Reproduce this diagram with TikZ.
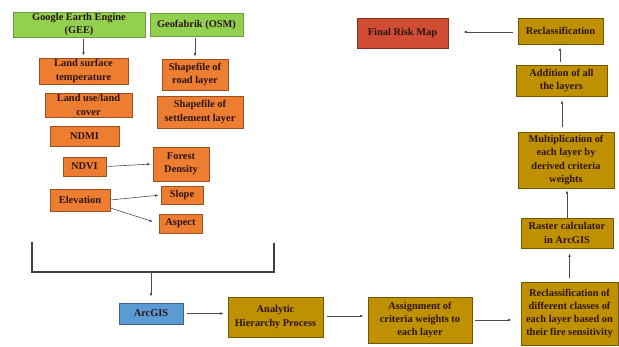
\documentclass[tikz,border=0pt]{standalone}
\usepackage{fontspec}
\setmainfont{Liberation Serif}
\usetikzlibrary{arrows.meta, positioning, calc}
\definecolor{geegreen}{RGB}{146, 208, 80}
\definecolor{layerorange}{RGB}{237, 125, 49}
\definecolor{procgold}{RGB}{191, 144, 0}
\definecolor{gisblue}{RGB}{91, 155, 213}
\definecolor{riskred}{RGB}{208, 76, 50}
\definecolor{txtdark}{RGB}{45, 20, 20}

\begin{document}
\begin{tikzpicture}[
  x=1pt, y=-1pt,
  box/.style={draw, line width=0.8pt, align=center, inner sep=0pt, text=txtdark,
    font=\fontsize{10.4}{13.3}\selectfont\bfseries},
  src/.style={box, fill=geegreen, draw=geegreen!75!black},
  lyr/.style={box, fill=layerorange, draw=layerorange!65!black},
  proc/.style={box, fill=procgold, draw=procgold!60!black},
  flow/.style={-{Latex[length=3.5pt,width=2.6pt]}, black!70, line width=0.6pt, shorten <=2pt, shorten >=2pt},
]
  \useasboundingbox (0,0) rectangle (619,347);

  % Data sources
  \node[src, minimum width=132pt, minimum height=25pt] (gee) at (79,24.5) {Google Earth Engine\\(GEE)};
  \node[src, minimum width=93pt, minimum height=23pt] (osm) at (196.5,24.5) {Geofabrik (OSM)};

  % Input layers
  \node[lyr, minimum width=89pt, minimum height=26pt] (lst) at (83.5,71) {Land surface\\temperature};
  \node[lyr, minimum width=87pt, minimum height=24pt] (lulc) at (88.5,105) {Land use/land\\cover};
  \node[lyr, minimum width=69pt, minimum height=20pt] (ndmi) at (84.5,136) {NDMI};
  \node[lyr, minimum width=43pt, minimum height=19pt] (ndvi) at (84.5,166.5) {NDVI};
  \node[lyr, minimum width=60pt, minimum height=22pt] (elev) at (80,200) {Elevation};
  \node[lyr, minimum width=66pt, minimum height=31pt] (road) at (195,74.5) {Shapefile of\\road layer};
  \node[lyr, minimum width=86pt, minimum height=32pt] (settle) at (200,112) {Shapefile of\\settlement layer};
  \node[lyr, minimum width=56pt, minimum height=34pt] (forest) at (181,164) {Forest\\Density};
  \node[lyr, minimum width=42pt, minimum height=18pt] (slope) at (182,195) {Slope};
  \node[lyr, minimum width=43pt, minimum height=19pt] (aspect) at (180.5,223.5) {Aspect};

  % Processing chain
  \node[box, fill=gisblue, draw=gisblue!65!black, minimum width=64pt, minimum height=21pt] (arcgis) at (151,313.5) {ArcGIS};
  \node[proc, minimum width=95pt, minimum height=40pt] (ahp) at (275.5,317) {Analytic\\Hierarchy Process};
  \node[proc, minimum width=104pt, minimum height=46pt] (assign) at (420,320) {Assignment of\\criteria weights to\\each layer};
  \node[proc, minimum width=97pt, minimum height=63pt] (reclassd) at (569.5,313.5) {Reclassification of\\different classes of\\each layer based on\\their fire sensitivity};
  \node[proc, minimum width=92pt, minimum height=30pt] (raster) at (567,233) {Raster calculator\\in ArcGIS};
  \node[proc, minimum width=96pt, minimum height=56pt] (multi) at (566,160) {Multiplication of\\each layer by\\derived criteria\\weights};
  \node[proc, minimum width=91pt, minimum height=31pt] (addall) at (561.5,80.5) {Addition of all\\the layers};
  \node[proc, minimum width=85pt, minimum height=26pt] (reclass) at (560.5,31) {Reclassification};
  \node[box, fill=riskred, draw=riskred!65!black, minimum width=91pt, minimum height=30pt] (final) at (402.5,33) {Final Risk Map};

  % Derived layers
  \draw[flow] (gee.south -| lst.north) -- (lst.north);
  \draw[flow] (osm.south -| road.north) -- (road.north);
  \draw[flow, shorten <=1pt] (ndvi.east) -- (forest.west);
  \draw[flow, shorten <=0pt] (elev.east) -- (slope.west);
  \draw[flow, shorten <=0pt, shorten >=6pt] ([yshift=-8pt]elev.east) -- (aspect.west);

  % Collecting bracket
  \coordinate (btl) at (32,242);
  \coordinate (bbl) at (32,272);
  \coordinate (bbr) at (274,272);
  \coordinate (btr) at (274,243);
  \coordinate (bmid) at (151,272);
  \draw[line width=1.2pt, black!75] (btl) -- (bbl) -- (bbr) -- (btr);
  \draw[flow, shorten <=0pt, shorten >=6pt] (bmid) -- (arcgis.north);

  % Workflow
  \draw[flow, shorten <=4pt, shorten >=4pt] (arcgis.east) -- (arcgis.east -| ahp.west);
  \draw[flow, shorten <=4pt, shorten >=4pt] (ahp.east |- 316,316) -- (assign.west |- 316,316);
  \draw[flow, shorten <=3pt, shorten >=9pt] (assign.east |- 320,320) -- (reclassd.west |- 320,320);
  \draw[flow, shorten <=4pt, shorten >=5pt] (reclassd.north) -- (reclassd.north |- raster.south);
  \draw[flow, shorten <=0pt] (raster.north) -- (raster.north |- multi.south);
  \draw[flow, shorten <=5pt, shorten >=4pt] (multi.north -| 562,0) -- (addall.south -| 562,0);
  \draw[flow, shorten <=3pt, shorten >=3pt] (addall.north -| 560,0) -- (reclass.south -| 560,0);
  \draw[flow, shorten <=5pt, shorten >=15pt] (reclass.west |- 0,32) -- (final.east |- 0,32);
\end{tikzpicture}
\end{document}
